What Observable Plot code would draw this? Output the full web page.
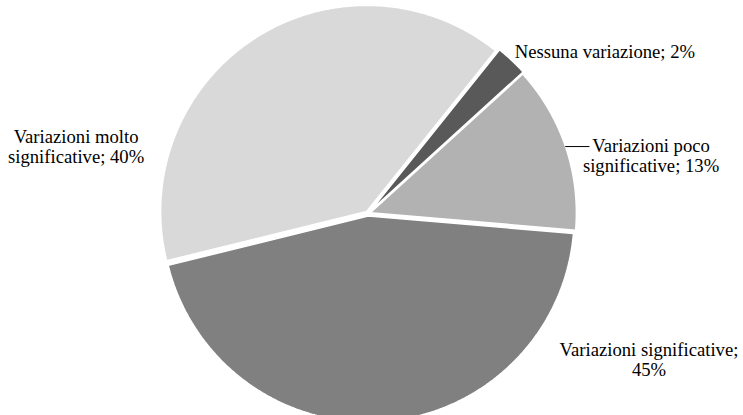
<!DOCTYPE html>
<html>
<head>
<meta charset="utf-8">
<script src="https://cdn.jsdelivr.net/npm/d3@7"></script>
<script src="https://cdn.jsdelivr.net/npm/@observablehq/plot@0.6"></script>
<style>
  html, body { margin: 0; padding: 0; background: #fff; }
  svg { display: block; }
  svg text { font-family: "Liberation Serif", "DejaVu Serif", "Times New Roman", Times, serif !important; }
</style>
</head>
<body>
<div id="chart"></div>
<script>
// ---- data ----
const categories = ["Nessuna variazione", "Variazioni poco significative", "Variazioni significative", "Variazioni molto significative"];
const values = [2.5, 13.1, 44.8, 39.6];
const labels = ["Nessuna variazione; 2%", "Variazioni poco\nsignificative; 13%", "Variazioni significative;\n45%", "Variazioni molto\nsignificative; 40%"];
const colors = ["#595959", "#b2b2b2", "#808080", "#d9d9d9"];

// ---- layout (not data) ----
const W = 743, H = 415;
const cx = 367.5, cy = 213, R = 206;     // pie centre & radius in px
const startAngle = 38.7;                 // degrees clockwise from north
const explode = [4, 2.5, 2.5, 2.5];      // px offset of each slice along its mid-angle
const labelPos = [[1.150, -0.786], [1.374, -0.282], [1.364, 0.709], [-1.417, -0.325]]; // label centres, in pie radii
const leaderY = -0.325;                  // leader line height (pie radii) for slice 2
const leaderEnd = 1.075;

const rad = a => a * Math.PI / 180;
const total = d3.sum(values);
let acc = startAngle;
const slices = categories.map((c, i) => {
  const a0 = acc, a1 = acc + values[i] / total * 360;
  acc = a1;
  return {c, a0, a1, e: explode[i] / R};
});
const pts = [];
for (const s of slices) {
  const m = rad((s.a0 + s.a1) / 2);
  const ox = s.e * Math.sin(m), oy = -s.e * Math.cos(m);
  pts.push({c: s.c, x: ox, y: oy});
  const n = Math.max(2, Math.ceil(s.a1 - s.a0) * 2);
  for (let k = 0; k <= n; k++) {
    const a = rad(s.a0 + (s.a1 - s.a0) * k / n);
    pts.push({c: s.c, x: ox + Math.sin(a), y: oy - Math.cos(a)});
  }
}
const labelData = labels.map((t, i) => ({t, x: labelPos[i][0], y: labelPos[i][1]}));
const s1 = slices[1], m1 = rad((s1.a0 + s1.a1) / 2);
const leader = [{x1: s1.e * Math.sin(m1) + Math.sqrt(1 - leaderY * leaderY), y1: leaderY, x2: leaderEnd, y2: leaderY}];

const chart = Plot.plot({
  width: W,
  height: H,
  margin: 0,
  style: {background: "#fff", fontFamily: "'Liberation Serif', serif"},
  x: {domain: [-cx / R, (W - cx) / R], range: [0, W], axis: null},
  y: {domain: [-cy / R, (H - cy) / R], range: [0, H], axis: null},
  color: {domain: categories, range: colors},
  marks: [
    Plot.line(pts, {x: "x", y: "y", z: "c", fill: "c", stroke: "#fff", strokeWidth: 1.5, curve: "linear-closed", strokeLinejoin: "miter"}),
    Plot.link(leader, {x1: "x1", y1: "y1", x2: "x2", y2: "y2", stroke: "#000", strokeWidth: 1}),
    Plot.text(labelData, {x: "x", y: "y", text: "t", fontSize: 18.67, lineHeight: 1.1, fill: "#000", textAnchor: "middle", fontFamily: "Liberation Serif, DejaVu Serif, serif"})
  ]
});
document.getElementById("chart").appendChild(chart);
</script>
</body>
</html>
